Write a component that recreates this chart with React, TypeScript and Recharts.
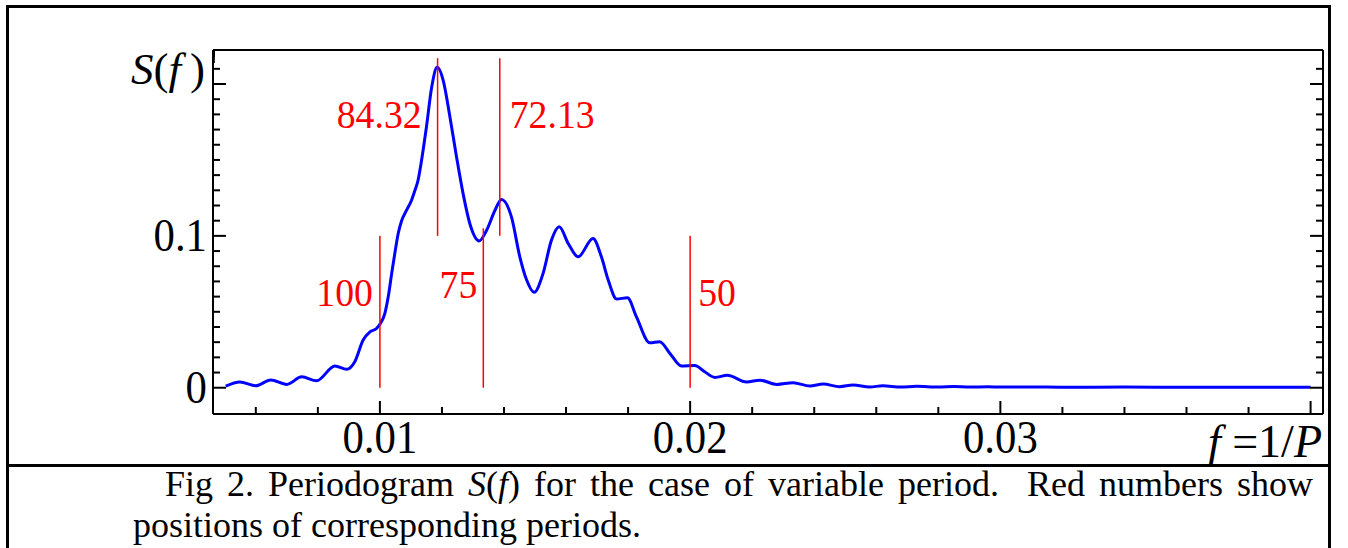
import React from "react";
import { LineChart, Line, XAxis, YAxis, ReferenceLine } from "recharts";

// periodogram
const freq = [
  0.00503, 0.00549, 0.006, 0.00648, 0.007, 0.00748, 0.00796, 0.00855, 0.00893,
  0.00919, 0.00946, 0.00968, 0.00989, 0.01002, 0.01016, 0.01027, 0.01038,
  0.01048, 0.01059, 0.0107, 0.01086, 0.01102, 0.01113, 0.01123, 0.01129,
  0.0115, 0.01167, 0.01185, 0.01204, 0.01226, 0.01247, 0.01268, 0.0129, 0.0132,
  0.01344, 0.01371, 0.01392, 0.01424, 0.01451, 0.01473, 0.01497, 0.01526,
  0.01553, 0.01578, 0.01607, 0.01639, 0.01687, 0.01714, 0.01736, 0.01763,
  0.01798, 0.01827, 0.0187, 0.01902, 0.01935, 0.01972, 0.02015, 0.02047,
  0.0208, 0.0212, 0.02182, 0.02225, 0.02279, 0.02332, 0.02386, 0.02429,
  0.02482, 0.02525, 0.02579, 0.02621, 0.0268, 0.0273, 0.028, 0.0285, 0.029,
  0.0296, 0.03, 0.031, 0.032, 0.034, 0.036, 0.038, 0.04,
];
const power = [
  0.0011, 0.0038, 0.0013, 0.0051, 0.0022, 0.0072, 0.0046, 0.0143, 0.0121,
  0.0171, 0.0314, 0.0368, 0.039, 0.0424, 0.049, 0.06, 0.0753, 0.0884, 0.1016,
  0.11, 0.1169, 0.1235, 0.13, 0.1366, 0.1432, 0.1717, 0.198, 0.2112, 0.2024,
  0.178, 0.152, 0.128, 0.108, 0.0967, 0.1037, 0.1169, 0.124, 0.1125, 0.0862,
  0.0709, 0.0628, 0.0753, 0.0972, 0.106, 0.095, 0.0862, 0.0983, 0.0862, 0.0709,
  0.0585, 0.0592, 0.0467, 0.0296, 0.0303, 0.0226, 0.0143, 0.0147, 0.0105,
  0.0068, 0.0082, 0.0038, 0.005, 0.0022, 0.0033, 0.0011, 0.0024, 0.0007,
  0.0018, 0.0005, 0.0013, 0.0004, 0.001, 0.0004, 0.0008, 0.0004, 0.0007,
  0.0004, 0.0005, 0.0003, 0.0004, 0.0003, 0.0003, 0.0003,
];

const xTicks = [
  0.006, 0.008, 0.01, 0.012, 0.014, 0.016, 0.018, 0.02, 0.022, 0.024, 0.026,
  0.028, 0.03, 0.032, 0.034, 0.036, 0.038, 0.04,
];
const xMajor = [0.01, 0.02, 0.03, 0.04];
const xLabelValues = [0.01, 0.02, 0.03];
const xLabelText = ["0.01", "0.02", "0.03"];

const yTicks = [
  0, 0.01, 0.02, 0.03, 0.04, 0.05, 0.06, 0.07, 0.08, 0.09, 0.1, 0.11, 0.12,
  0.13, 0.14, 0.15, 0.16, 0.17, 0.18, 0.19, 0.2, 0.21,
];
const yMajor = [0, 0.1, 0.2];
const yLabelValues = [0, 0.1];
const yLabelText = ["0", "0.1"];

// red markers: period P drawn at f = 1/P
const periods = [100, 84.32, 75, 72.13, 50];
const periodText = ["100", "84.32", "75", "72.13", "50"];
const segLow = [0, 0.1, 0, 0.1, 0];
const segHigh = [0.1, 0.217, 0.105, 0.217, 0.1];

const labelDx = [-7, -16, -6, 10, 8];

const data = freq.map((f, i) => ({ f, s: power[i] }));

const FONT = "'Liberation Serif', 'Times New Roman', serif";
const near = (a: number, b: number) => Math.abs(a - b) < 1e-9;

function XTick(props: any) {
  const { x, y, payload, side } = props;
  const v = payload.value;
  const len = xMajor.some((m) => near(m, v)) ? 13 : 7;
  const dir = side === "top" ? 1 : -1;
  const idx = side === "bottom" ? xLabelValues.findIndex((m) => near(m, v)) : -1;
  return (
    <g>
      <line x1={x} x2={x} y1={y} y2={y + dir * len} stroke="#000" strokeWidth={2} />
      {idx >= 0 && (
        <text
          transform={`translate(${x} ${y + 39}) scale(0.93 1)`}
          textAnchor="middle"
          fontSize={46}
          fontFamily={FONT}
          fill="#000"
        >
          {xLabelText[idx]}
        </text>
      )}
    </g>
  );
}

function YTick(props: any) {
  const { x, y, payload, side } = props;
  const v = payload.value;
  const len = yMajor.some((m) => near(m, v)) ? 13 : 7;
  const dir = side === "left" ? 1 : -1;
  const idx = side === "left" ? yLabelValues.findIndex((m) => near(m, v)) : -1;
  return (
    <g>
      <line x1={x} x2={x + dir * len} y1={y} y2={y} stroke="#000" strokeWidth={2} />
      {idx >= 0 && (
        <text
          transform={`translate(${x - 6} ${y + 15.5}) scale(0.93 1)`}
          textAnchor="end"
          fontSize={46}
          fontFamily={FONT}
          fill="#000"
        >
          {yLabelText[idx]}
        </text>
      )}
    </g>
  );
}

function PeriodLabel(props: any) {
  const { viewBox, i } = props;
  const dx = labelDx[i];
  const x = viewBox.x + dx;
  const y = viewBox.y + 70;
  return (
    <text
      transform={`translate(${x} ${y}) scale(0.92 1)`}
      textAnchor={dx < 0 ? "end" : "start"}
      fontSize={41}
      fontFamily={FONT}
      fill="#ff0000"
    >
      {periodText[i]}
    </text>
  );
}

// axis titles, placed from the plot box corners
function YTitle(props: any) {
  const { viewBox } = props;
  const x = viewBox.x + viewBox.width - 8;
  return (
    <text x={x} y={viewBox.y + 34} textAnchor="end" fontSize={45} fontFamily={FONT} fill="#000">
      <tspan fontStyle="italic">S</tspan>(<tspan fontStyle="italic">f</tspan>{"\u2009"})
    </text>
  );
}

function XTitle(props: any) {
  const { viewBox } = props;
  return (
    <text
      x={viewBox.x + viewBox.width - 1}
      y={viewBox.y + 43}
      textAnchor="end"
      fontSize={46}
      fontFamily={FONT}
      fill="#000"
    >
      <tspan fontStyle="italic">f</tspan> =1/<tspan fontStyle="italic">P</tspan>
    </text>
  );
}

const xDomain: [number, number] = [0.00462, 0.0404];
const yDomain: [number, number] = [-0.0173, 0.2224];
const axisLine = { stroke: "#000", strokeWidth: 2 };

export default function App() {
  return (
    <div
      style={{
        position: "absolute",
        left: 0,
        top: 0,
        width: 1348,
        height: 548,
        overflow: "hidden",
        background: "#fff",
      }}
    >
      <div
        style={{
          position: "absolute",
          left: 6,
          top: 5,
          width: 1325,
          height: 700,
          border: "3px solid #000",
          boxSizing: "border-box",
        }}
      />
      <div style={{ position: "absolute", left: 6, top: 464, width: 1325, height: 3, background: "#000" }} />
      <div style={{ position: "absolute", left: 0, top: 0 }}>
        <LineChart width={1348} height={470} data={data} margin={{ top: 49, right: 24, bottom: 55, left: 212 }}>
          <XAxis
            dataKey="f"
            type="number"
            domain={xDomain}
            allowDataOverflow
            ticks={xTicks}
            interval={0}
            height={1}
            tickSize={0}
            tickMargin={0}
            tickLine={false}
            axisLine={axisLine}
            tick={<XTick side="bottom" />}
            label={<XTitle />}
          />
          <XAxis
            xAxisId="top"
            orientation="top"
            type="number"
            domain={xDomain}
            allowDataOverflow
            ticks={xTicks}
            interval={0}
            height={1}
            tickSize={0}
            tickMargin={0}
            tickLine={false}
            axisLine={axisLine}
            tick={<XTick side="top" />}
          />
          <YAxis
            type="number"
            domain={yDomain}
            allowDataOverflow
            ticks={yTicks}
            interval={0}
            width={1}
            tickSize={0}
            tickMargin={0}
            tickLine={false}
            axisLine={axisLine}
            tick={<YTick side="left" />}
            label={<YTitle />}
          />
          <YAxis
            yAxisId="right"
            orientation="right"
            type="number"
            domain={yDomain}
            allowDataOverflow
            ticks={yTicks}
            interval={0}
            width={1}
            tickSize={0}
            tickMargin={0}
            tickLine={false}
            axisLine={axisLine}
            tick={<YTick side="right" />}
          />
          <Line
            dataKey="s"
            type="monotone"
            stroke="#0000ff"
            strokeWidth={3}
            dot={false}
            activeDot={false}
            isAnimationActive={false}
          />
          {periods.map((p, i) => (
            <ReferenceLine
              key={p}
              segment={[
                { x: 1 / p, y: segLow[i] },
                { x: 1 / p, y: segHigh[i] },
              ]}
              stroke="#ff0000"
              strokeWidth={1.5}
              ifOverflow="visible"
              label={<PeriodLabel i={i} />}
            />
          ))}
        </LineChart>
      </div>
      <div
        style={{
          position: "absolute",
          left: 133,
          top: 464,
          width: 1180,
          fontFamily: FONT,
          fontSize: 36,
          lineHeight: "41px",
          textAlign: "justify",
          textIndent: 32,
          color: "#000",
        }}
      >
        Fig 2. Periodogram <i>S</i>(<i>f</i>) for the case of variable period.{"\u00a0"} Red numbers show
        positions of corresponding periods.
      </div>
    </div>
  );
}
